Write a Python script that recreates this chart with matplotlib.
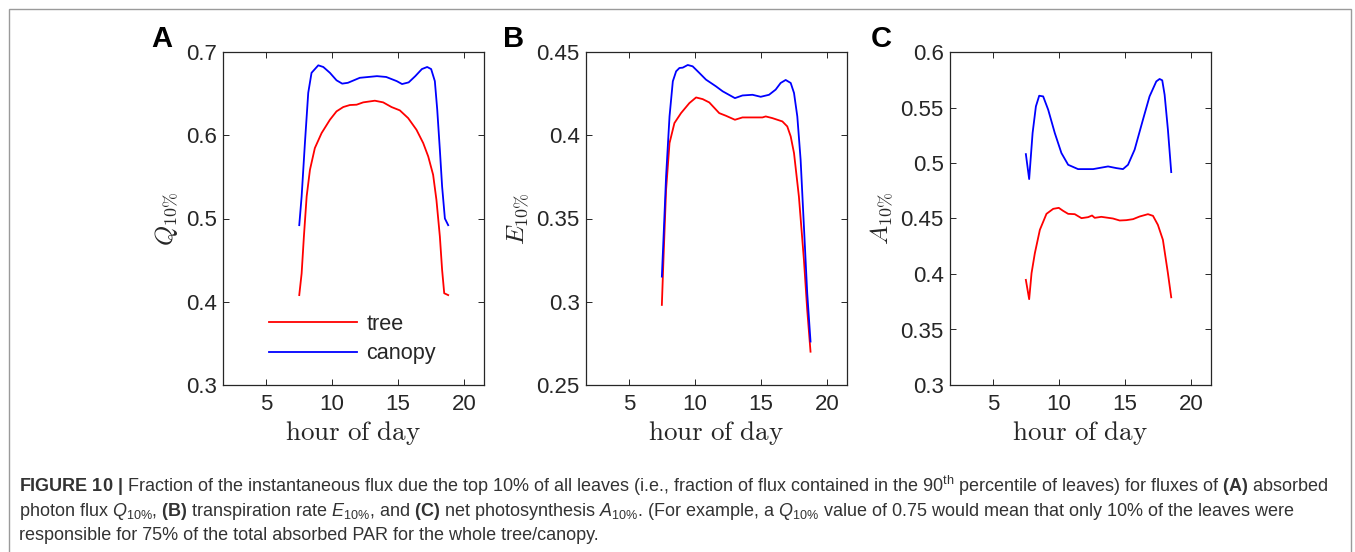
import matplotlib
matplotlib.use('Agg')
import matplotlib.pyplot as plt
from matplotlib.patches import Rectangle
from matplotlib.ticker import FuncFormatter

plt.rcParams['font.family'] = ['Liberation Sans', 'DejaVu Sans']
plt.rcParams['mathtext.fontset'] = 'custom'
plt.rcParams['mathtext.rm'] = 'Liberation Sans'
plt.rcParams['mathtext.it'] = 'Liberation Sans:italic'
plt.rcParams['mathtext.bf'] = 'Liberation Sans:bold'

# panel A: absorbed photon flux
hour_qa_tree = [7.52, 7.7, 7.87, 8.08, 8.33, 8.7, 9.21, 9.84, 10.34, 10.85, 11.35, 11.86, 12.36,
                13.24, 13.87, 14.5, 15.13, 15.76, 16.39, 16.9, 17.28, 17.65, 17.9, 18.16, 18.33,
                18.49, 18.79]
q_tree = [0.408, 0.434, 0.478, 0.5265, 0.5585, 0.5846, 0.6026, 0.6186, 0.6287, 0.6339, 0.6363,
          0.6367, 0.6395, 0.6415, 0.6395, 0.6339, 0.6299, 0.6206, 0.6066, 0.5906, 0.5745, 0.5525,
          0.5224, 0.4784, 0.4383, 0.4102, 0.408]
hour_qa_canopy = [7.52, 7.7, 7.95, 8.2, 8.45, 8.96, 9.34, 9.84, 10.34, 10.77, 11.2, 12.1, 13.4,
                  14.1, 14.9, 15.3, 15.8, 16.3, 16.8, 17.2, 17.5, 17.78, 17.96, 18.16, 18.33,
                  18.54, 18.79]
q_canopy = [0.492, 0.5265, 0.591, 0.651, 0.675, 0.684, 0.682, 0.675, 0.666, 0.662, 0.663, 0.669,
            0.671, 0.670, 0.665, 0.6615, 0.6635, 0.671, 0.6795, 0.682, 0.6795, 0.665, 0.631,
            0.5825, 0.5385, 0.500, 0.492]

# panel B: transpiration rate
hour_e_tree = [7.49, 7.61, 7.81, 8.07, 8.44, 8.94, 9.57, 10.08, 10.58, 11.08, 11.83, 12.34, 13.02,
               13.59, 14.35, 15.1, 15.35, 15.85, 16.61, 16.98, 17.24, 17.49, 17.86, 18.24, 18.49,
               18.74]
e_tree = [0.2981, 0.3252, 0.3672, 0.3953, 0.4073, 0.4133, 0.4193, 0.4227, 0.4217, 0.4197, 0.4133,
          0.4117, 0.4093, 0.4107, 0.4107, 0.4107, 0.4113, 0.4103, 0.4083, 0.4053, 0.3993, 0.3893,
          0.3632, 0.3252, 0.2951, 0.270]
hour_e_canopy = [7.49, 7.61, 7.81, 8.07, 8.32, 8.57, 8.82, 9.07, 9.45, 9.82, 10.33, 10.83, 11.58,
                 12.09, 13.02, 13.59, 14.35, 14.97, 15.6, 16.1, 16.48, 16.86, 17.24, 17.49, 17.74,
                 17.99, 18.24, 18.49, 18.74]
e_canopy = [0.3151, 0.3372, 0.3753, 0.4113, 0.4324, 0.4384, 0.4404, 0.4406, 0.4422, 0.4414,
            0.4374, 0.4334, 0.4294, 0.4264, 0.4223, 0.4239, 0.4243, 0.4231, 0.4243, 0.4274,
            0.4314, 0.4332, 0.4314, 0.4254, 0.4113, 0.3853, 0.3452, 0.3051, 0.2761]

# panel C: net photosynthesis
hour_a_tree = [7.49, 7.74, 7.92, 8.17, 8.55, 9.05, 9.56, 9.98, 10.31, 10.69, 11.19, 11.7, 12.2,
               12.5, 12.7, 13.2, 14.08, 14.59, 15.09, 15.6, 16.1, 16.73, 17.11, 17.48, 17.86,
               18.24, 18.49]
a_tree = [0.3947, 0.3773, 0.4007, 0.4187, 0.4398, 0.4542, 0.4587, 0.4596, 0.4569, 0.4542, 0.4539,
          0.4503, 0.4512, 0.4527, 0.4506, 0.4515, 0.450, 0.4482, 0.4485, 0.4494, 0.4518, 0.4539,
          0.4524, 0.4443, 0.4308, 0.4007, 0.379]
hour_a_canopy = [7.49, 7.74, 8.0, 8.25, 8.5, 8.8, 9.18, 9.68, 10.18, 10.69, 11.44, 12.58, 13.71,
                 14.34, 14.84, 15.22, 15.72, 16.35, 16.85, 17.36, 17.61, 17.81, 17.99, 18.24,
                 18.49]
a_canopy = [0.508, 0.4855, 0.527, 0.551, 0.5606, 0.560, 0.548, 0.527, 0.509, 0.4984, 0.4945,
            0.4945, 0.4969, 0.4954, 0.4945, 0.4984, 0.512, 0.539, 0.560, 0.5735, 0.5757, 0.5745,
            0.5615, 0.530, 0.4918]

panel_letters = ['A', 'B', 'C']
y_labels = [r'$Q_{10\%}$', r'$E_{10\%}$', r'$A_{10\%}$']
y_ranges = [(0.3, 0.7, 0.1), (0.25, 0.45, 0.05), (0.3, 0.6, 0.05)]
x_ticks = [5, 10, 15, 20]

panels = [
    (hour_qa_tree, q_tree, hour_qa_canopy, q_canopy),
    (hour_e_tree, e_tree, hour_e_canopy, e_canopy),
    (hour_a_tree, a_tree, hour_a_canopy, a_canopy),
]

W, H = 1355, 552
fig = plt.figure(figsize=(W / 100, H / 100), dpi=100)

axes_left = [223, 586, 950]
letter_x = [151, 503, 871]
dark = '#262626'

for i, (xt, yt, xc, yc) in enumerate(panels):
    ax = fig.add_axes([axes_left[i] / W, 1 - 385 / H, 261 / W, 333 / H])
    ax.plot(xt, yt, color='#ff0000', lw=1.3, label='tree')
    ax.plot(xc, yc, color='#0000ff', lw=1.3, label='canopy')
    lo, hi, step = y_ranges[i]
    n = int(round((hi - lo) / step))
    ax.set_ylim(lo, hi)
    ax.set_yticks([lo + k * step for k in range(n + 1)])
    ax.yaxis.set_major_formatter(FuncFormatter(lambda v, p: '{:g}'.format(round(v, 3))))
    ax.set_xlim(1.75, 21.5)
    ax.set_xticks(x_ticks)
    ax.tick_params(direction='in', top=True, right=True, length=4, width=0.7,
                   labelsize=16, colors=dark)
    ax.tick_params(axis='y', pad=4.5)
    ax.tick_params(axis='x', pad=6.5)
    for s in ax.spines.values():
        s.set_color(dark)
        s.set_linewidth(0.9)
    ax.set_xlabel(r'$\mathrm{hour\ of\ day}$', fontsize=19.5, color=dark,
                  math_fontfamily='cm', labelpad=3)
    ax.set_ylabel(y_labels[i], fontsize=18.5, color=dark, math_fontfamily='cm', labelpad=4)
    fig.text(letter_x[i] / W, 1 - 47 / H, panel_letters[i], fontsize=21, fontweight='bold',
             ha='left', va='baseline', color='black')
    if i == 0:
        ax.legend(loc='lower left', bbox_to_anchor=(0.135, 0.03), frameon=False, fontsize=15.6,
                  handlelength=4.04, handletextpad=0.45, labelspacing=0.4, borderpad=0,
                  labelcolor=dark)

# caption box
fig.add_artist(Rectangle((9 / W, -0.2), (1351 - 9) / W, 1.2 - 9 / H, transform=fig.transFigure,
                         fill=False, edgecolor='#9a9a9a', lw=1))

caption = [
    r'$\mathbf{FIGURE\ 10\ |}$ Fraction of the instantaneous flux due the top 10% of all leaves '
    r'(i.e., fraction of flux contained in the 90$^{\mathrm{th}}$ percentile of leaves) for fluxes '
    r'of $\mathbf{(A)}$ absorbed',
    r'photon flux $Q_{10\%}$, $\mathbf{(B)}$ transpiration rate $E_{10\%}$, and $\mathbf{(C)}$ net '
    r'photosynthesis $A_{10\%}$. (For example, a $Q_{10\%}$ value of 0.75 would mean that only '
    r'10% of the leaves were',
    'responsible for 75% of the total absorbed PAR for the whole tree/canopy.',
]
caption_base = [491.7, 516.5, 540.5]
cap_texts = []
for line, yb in zip(caption, caption_base):
    t = fig.text(19 / W, 1 - yb / H, line, fontsize=11, color='#333333', ha='left',
                 va='baseline', math_fontfamily='custom')
    cap_texts.append(t)

# fit the first caption line to the width of the box
renderer = fig.canvas.get_renderer()
w1 = cap_texts[0].get_window_extent(renderer).width
size = 11 * (1332 - 19) / w1
for t in cap_texts:
    t.set_fontsize(size)

fig.savefig('out.png', dpi=100)
